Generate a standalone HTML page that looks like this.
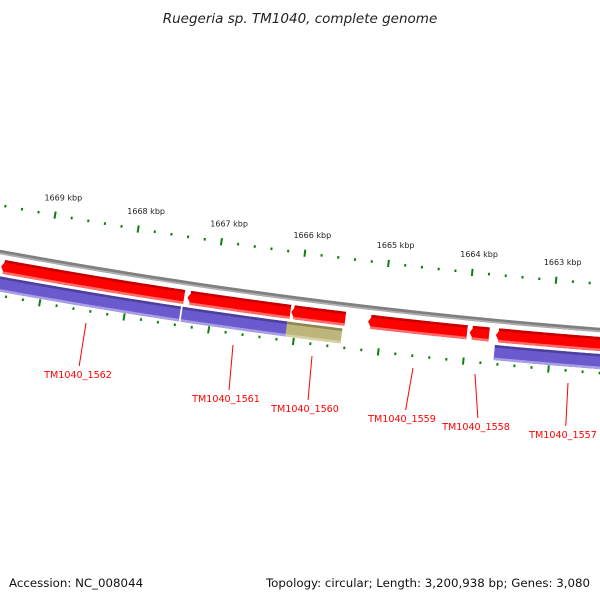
<!DOCTYPE html>
<html><head><meta charset="utf-8"><style>
body{margin:0;background:#fff}
svg{display:block}
text{font-family:"DejaVu Sans","Liberation Sans",sans-serif}
</style></head><body>
<svg id="chart" width="600" height="600" viewBox="0 0 600 600" xmlns="http://www.w3.org/2000/svg">
<rect width="600" height="600" fill="#fff"/>
<text x="300" y="23" text-anchor="middle" font-size="13.5" font-style="italic" fill="#222">Ruegeria sp. TM1040, complete genome</text>
<g id="ticks"></g><g id="genes"></g><g id="labels"></g>
<text x="9" y="587" font-size="11.8" fill="#111">Accession: NC_008044</text>
<text x="590" y="587" text-anchor="end" font-size="11.8" fill="#111">Topology: circular; Length: 3,200,938 bp; Genes: 3,080</text>
</svg>
<script>
const tickKbp=[1662,1663,1664,1665,1666,1667,1668,1669,1670];
const geneNames=["TM1040_1562","TM1040_1561","TM1040_1560","TM1040_1559","TM1040_1558","TM1040_1557"];
const redStarts=[1669.52,1667.30,1666.07,1665.16,1663.96,1663.65];
const redEnds=[1667.34,1666.08,1665.43,1663.99,1663.73,1662.0];
const blueStarts=[1669.8,1667.34,1663.65];
const blueEnds=[1667.36,1666.10,1662.0];
const oliveStarts=[1666.10];
const oliveEnds=[1665.45];
const labelX=[78,226,305,402,476,563];
const labelY=[378,402,412,422,430,438];
const lineFrom=[[86,323],[233,345],[312,356],[413,368],[475,374],[568,383]];

const NS="http://www.w3.org/2000/svg";
const CX=1043,CY=-5425,RB=5772;
function ang(k){return (-9.935+(1669-k)*0.8428)*Math.PI/180;}
function pt(k,r){const a=ang(k);return [CX+r*Math.sin(a),CY+r*Math.cos(a)];}
function mk(tag,attrs,parent){const e=document.createElementNS(NS,tag);for(const k in attrs)e.setAttribute(k,attrs[k]);parent.appendChild(e);return e;}
function bandPts(k1,k2,r1,r2,head){
  const pts=[];const n=12;const hk=head?0.05:0;
  for(let i=0;i<=n;i++){pts.push(pt(k1-hk+(k2-(k1-hk))*i/n,r1));}
  for(let i=n;i>=0;i--){pts.push(pt(k1-hk+(k2-(k1-hk))*i/n,r2));}
  if(head)pts.push(pt(k1,(r1+r2)/2));
  return pts.map(p=>p[0].toFixed(2)+","+p[1].toFixed(2)).join(" ");
}
const tg=document.getElementById('ticks'),gg=document.getElementById('genes'),lg=document.getElementById('labels');
function arcPath(k1,k2,r){let d="";for(let i=0;i<=40;i++){const p=pt(k1+(k2-k1)*i/40,r);d+=(i?"L":"M")+p[0].toFixed(2)+","+p[1].toFixed(2);}return d;}
const bb=mk('path',{d:arcPath(1670.2,1661.8,RB),stroke:'#808080','stroke-width':4.5,fill:'none'},tg);


const bb2=mk('path',{d:arcPath(1670.2,1661.8,RB+1.3),stroke:'#b0b0b0','stroke-width':1.5,fill:'none'},tg);


for(let i=0;i<tickKbp.length-1;i++){
  for(let j=0;j<5;j++){
    const k=tickKbp[i]+j*0.2;const major=j===0;
    [[5726,'top'],[5815,'bottom']].forEach(([r,side])=>{
      const h=major?3.6:1.3;const a=pt(k,r-h),b=pt(k,r+h);
      const t=mk('line',{x1:a[0],y1:a[1],x2:b[0],y2:b[1],stroke:'#0a7f0a','stroke-width':2},tg);
      
      
    });
  }
  const k=tickKbp[i];
  if(k>=1663&&k<=1669){
    const p=pt(k-0.06,5707);
    const tx=mk('text',{x:p[0],y:p[1]+3,'text-anchor':'middle','font-size':8,fill:'#222'},tg);
    tx.textContent=k+" kbp";
    
    
  }
}
function band(k1,k2,r1,r2,head,cols,name){
  const g=mk('g',{},gg);
  
  
  mk('polygon',{points:bandPts(k1,k2,r1,r2,head),fill:cols[1]},g);
  mk('polygon',{points:bandPts(k1-(head?0.03:0),k2,r1,r1+2.5,false),fill:cols[0]},g);
  mk('polygon',{points:bandPts(k1-(head?0.03:0),k2,r2-2.5,r2,false),fill:cols[2]},g);
}
for(let i=0;i<redStarts.length;i++)band(redStarts[i],redEnds[i],5779,5793,true,['#c40000','#ff0000','#ff6a6a'],'gene-forward-'+(i+1));
for(let i=0;i<blueStarts.length;i++)band(blueStarts[i],blueEnds[i],5796,5811,false,['#4c3f9e','#6a5acd','#a89ee6'],'gene-reverse-'+(i+1));
for(let i=0;i<oliveStarts.length;i++)band(oliveStarts[i],oliveEnds[i],5796,5811,false,['#8d8650','#bdb57a','#d6d0a4'],'gene-other-'+(i+1));
for(let i=0;i<geneNames.length;i++){
  const l=mk('line',{x1:lineFrom[i][0],y1:lineFrom[i][1],x2:labelX[i]+(lineFrom[i][0]-labelX[i])*0.15+(i===0?0:2),y2:labelY[i]-12,stroke:'#ff0000','stroke-width':1},lg);
  
  
  const t=mk('text',{x:labelX[i],y:labelY[i],'text-anchor':'middle','font-size':9.6,fill:'#ff0000'},lg);
  t.textContent=geneNames[i];
  
  
}
</script>
</body></html>
